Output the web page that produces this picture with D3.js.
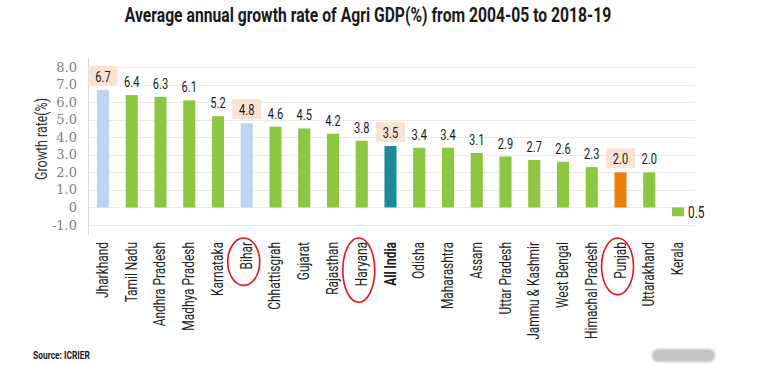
<!DOCTYPE html>
<html>
<head>
<meta charset="utf-8">
<script src="https://cdn.jsdelivr.net/npm/d3@7/dist/d3.min.js"></script>
<style>
  html, body { margin: 0; padding: 0; background: #fff; }
  svg { display: block; }
</style>
</head>
<body>
<svg id="chart" width="769" height="365"></svg>
<script>
// ---- data ----
const categories = ["Jharkhand","Tamil Nadu","Andhra Pradesh","Madhya Pradesh","Karnataka","Bihar",
  "Chhattisgrah","Gujarat","Rajasthan","Haryana","All India","Odisha","Maharashtra","Assam",
  "Uttar Pradesh","Jammu & Kashmir","West Bengal","Himachal Pradesh","Punjab","Uttarakhand","Kerala"];
const values = [6.7,6.4,6.3,6.1,5.2,4.8,4.6,4.5,4.2,3.8,3.5,3.4,3.4,3.1,2.9,2.7,2.6,2.3,2.0,2.0,-0.5];
const valueLabels = ["6.7","6.4","6.3","6.1","5.2","4.8","4.6","4.5","4.2","3.8","3.5","3.4","3.4",
  "3.1","2.9","2.7","2.6","2.3","2.0","2.0","0.5"];
const yTicks = [-1,0,1,2,3,4,5,6,7,8];
const yTickLabels = ["-1.0","0","1.0","2.0","3.0","4.0","5.0","6.0","7.0","8.0"];
const highlightedStates = ["Jharkhand","Bihar"];
const nationalCategory = "All India";
const focusState = "Punjab";
const boxedLabels = ["Jharkhand","Bihar","All India","Punjab"];
const circledLabels = ["Bihar","Haryana","Punjab"];
const titleText = "Average annual growth rate of Agri GDP(%) from 2004-05 to 2018-19";
const yTitle = "Growth rate(%)";
const sourceText = "Source: ICRIER";

// ---- layout ----
const svg = d3.select("#chart");
const sans = "Roboto, 'Liberation Sans', sans-serif";
const serif = "'DejaVu Serif', 'Liberation Serif', serif";

const x = d3.scaleBand().domain(categories).range([88.6, 692.4]).paddingInner(0.58).paddingOuter(0.29);
const y = d3.scaleLinear().domain([-1, 8]).range([225, 67]);

const colorFor = c => c === nationalCategory ? "#1e8b96"
  : c === focusState ? "#ed7d0e"
  : highlightedStates.includes(c) ? "#bdd5ee" : "#8dc641";

// condensed text helper: places text at (tx,ty) with rotation, squeezing horizontally by factor
function place(sel, tx, ty, rot, sx) {
  sel.attr("transform", `translate(${tx},${ty}) rotate(${rot}) scale(${sx},1)`);
  return sel;
}
function fitFactor(textSel, target) {
  return target / textSel.node().getComputedTextLength();
}

// title
const title = svg.append("text").attr("text-anchor", "middle")
  .attr("font-family", sans).attr("font-weight", "bold").attr("font-size", 20)
  .attr("fill", "#1a1a1a").text(titleText);
place(title, 368, 22, 0, fitFactor(title, 487));

// gridlines
svg.append("g").selectAll("line").data(yTicks).join("line")
  .attr("x1", 88).attr("x2", 695)
  .attr("y1", d => Math.round(y(d)) + 0.5).attr("y2", d => Math.round(y(d)) + 0.5)
  .attr("stroke", "#ebebeb").attr("stroke-width", 1);

// vertical axis line
svg.append("line").attr("x1", 88.5).attr("x2", 88.5).attr("y1", 58).attr("y2", 235)
  .attr("stroke", "#d9d9d9");

// y tick labels
svg.append("g").selectAll("text").data(yTicks).join("text")
  .attr("x", 77).attr("y", d => y(d) + 4.5).attr("text-anchor", "end")
  .attr("font-family", serif).attr("font-size", 13).attr("fill", "#7f7f7f")
  .text((d, i) => yTickLabels[i]);

// y title
const yt = svg.append("text").attr("text-anchor", "middle")
  .attr("font-family", sans).attr("font-size", 16).attr("fill", "#333").text(yTitle);
place(yt, 47, 139, -90, fitFactor(yt, 82));

// bars
svg.append("g").selectAll("rect").data(categories).join("rect")
  .attr("x", d => x(d)).attr("width", x.bandwidth())
  .attr("y", (d, i) => y(Math.max(0, values[i])))
  .attr("height", (d, i) => Math.abs(y(values[i]) - y(0)))
  .attr("fill", d => colorFor(d));

// label boxes
svg.append("g").selectAll("rect").data(categories.filter(c => boxedLabels.includes(c))).join("rect")
  .attr("x", d => x(d) + x.bandwidth() / 2 - 14.5).attr("width", 29)
  .attr("y", d => y(values[categories.indexOf(d)]) - 24).attr("height", 20)
  .attr("fill", "#fbe3d4");

// value labels
const vl = svg.append("g").attr("font-family", sans).attr("font-size", 15).attr("fill", "#1a1a1a");
const vScale = 0.74;
categories.forEach((c, i) => {
  const v = values[i];
  if (v >= 0) {
    const t = vl.append("text").attr("text-anchor", "middle").text(valueLabels[i]);
    place(t, x(c) + x.bandwidth() / 2, y(v) - 8, 0, vScale);
  } else {
    const t = vl.append("text").attr("text-anchor", "start").attr("font-size", 16).text(valueLabels[i]);
    place(t, x(c) + x.bandwidth() + 4, y(v) + 2, 0, vScale);
  }
});

// category labels
const cl = svg.append("g").attr("font-family", sans).attr("font-size", 16).attr("fill", "#222");
const catTexts = {};
categories.forEach(c => {
  catTexts[c] = cl.append("text").attr("text-anchor", "end")
    .attr("font-weight", c === nationalCategory ? "bold" : "normal").text(c);
});
const cScale = fitFactor(catTexts["Himachal Pradesh"], 97);
categories.forEach(c => {
  place(catTexts[c], x(c) + x.bandwidth() / 2 + 5, 242, -90, cScale);
});

// hand-drawn circles
circledLabels.forEach(c => {
  const len = catTexts[c].node().getComputedTextLength() * cScale;
  const ry = Math.max(21, len / 2 + 10);
  svg.append("ellipse").attr("cx", x(c) + x.bandwidth() / 2 - 3).attr("cy", 238 + ry)
    .attr("rx", 16).attr("ry", ry)
    .attr("fill", "none").attr("stroke", "#e8141b").attr("stroke-width", 1.6);
});

// source
const src = svg.append("text").attr("font-family", sans).attr("font-weight", "bold")
  .attr("font-size", 11).attr("fill", "#1a1a1a").text(sourceText);
place(src, 33, 359, 0, fitFactor(src, 57));

// redacted blob
const defs = svg.append("defs");
defs.append("filter").attr("id", "blur").append("feGaussianBlur").attr("stdDeviation", 0.8);
svg.append("rect").attr("x", 652).attr("y", 349).attr("width", 63).attr("height", 13).attr("rx", 6)
  .attr("fill", "#c3c3c3").attr("filter", "url(#blur)");
</script>
</body>
</html>
